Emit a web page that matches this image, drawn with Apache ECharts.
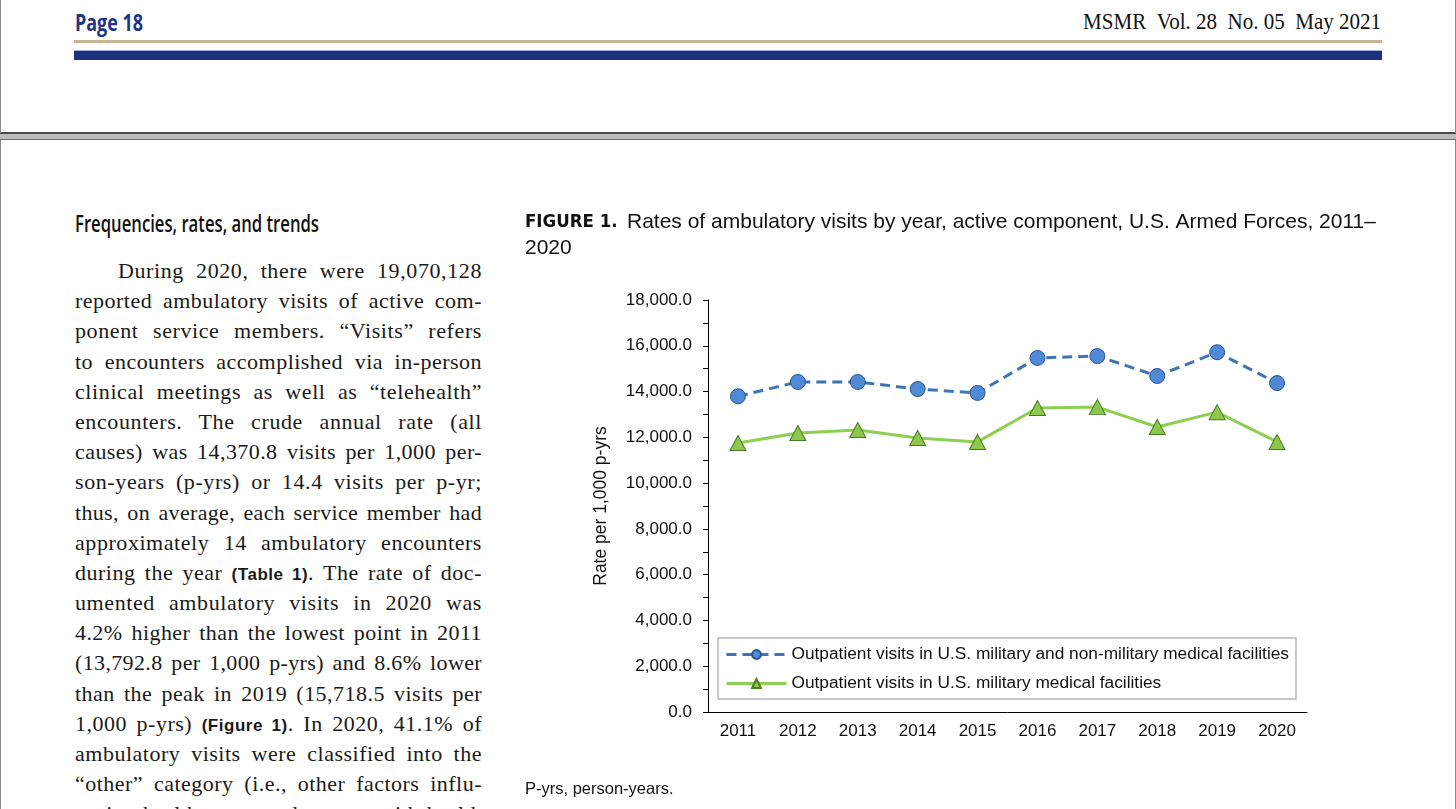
<!DOCTYPE html>
<html>
<head>
<meta charset="utf-8">
<script src="https://cdn.jsdelivr.net/npm/echarts@6/dist/echarts.min.js"></script>
<style>
  html, body { margin:0; padding:0; background:#fff; }
  body { width:1456px; height:809px; overflow:hidden; position:relative; }
  .abs { position:absolute; }
  #frameTop { left:0; top:0; width:1454px; height:132px; border-left:1px solid #8a8a8a; border-right:1px solid #8a8a8a; border-bottom:2px solid #4a4a4a; }
  #band { left:0; top:134px; width:1456px; height:5px; background:#bdbdbd; }
  #bandLine { left:0; top:139px; width:1456px; height:1px; background:#6e6e6e; }
  #frameBot { left:0; top:140px; width:1454px; height:700px; border-left:1px solid #8a8a8a; border-right:1px solid #8a8a8a; }
  .fit { white-space:nowrap; display:inline-block; }
  #pageNo { left:75px; top:6px; font-family:'Open Sans','Noto Sans',sans-serif; font-weight:700; font-size:23px; line-height:32px; color:#1e3486; transform-origin:left center; }
  #issue { right:75px; top:6px; font-family:'Liberation Serif','Times New Roman',serif; font-size:23px; line-height:32px; color:#111; transform-origin:right center; }
  #tanLine { left:74px; top:40px; width:1308px; height:3px; background:#c8b690; }
  #blueThin { left:74px; top:50px; width:1308px; height:1px; background:#9fb0e0; }
  #navyBar { left:74px; top:51px; width:1308px; height:9px; background:#1c2f80; }
  #heading { left:75px; top:207px; font-family:'Open Sans','Noto Sans',sans-serif; font-weight:600; font-size:23px; line-height:32px; color:#111; transform-origin:left center; }
  #article { left:75px; top:256px; width:407px; font-family:'Liberation Serif','Times New Roman',serif; font-size:22px; color:#1a1a1a; }
  #article .ln { height:30.2px; line-height:30px; white-space:nowrap; }
  #article .ln span.t { display:inline-block; white-space:nowrap; transform-origin:left center; }
  #article b { font-family:'Liberation Sans',Arial,sans-serif; font-size:17px; font-weight:700; }
  #chart { left:0; top:0; width:1456px; height:809px; }
</style>
</head>
<body>
<div class="abs" id="frameTop"></div>
<div class="abs" id="band"></div>
<div class="abs" id="bandLine"></div>
<div class="abs" id="frameBot"></div>

<div class="abs fit" id="pageNo">Page 18</div>
<div class="abs fit" id="issue">MSMR&nbsp;&nbsp;Vol. 28&nbsp;&nbsp;No. 05&nbsp;&nbsp;May 2021</div>
<div class="abs" id="tanLine"></div>
<div class="abs" id="blueThin"></div>
<div class="abs" id="navyBar"></div>

<div class="abs fit" id="heading">Frequencies, rates, and trends</div>

<div class="abs" id="article">
  <div class="ln" style="padding-left:43px"><span class="t">During 2020, there were 19,070,128</span></div>
  <div class="ln"><span class="t">reported ambulatory visits of active com-</span></div>
  <div class="ln"><span class="t">ponent service members. “Visits” refers</span></div>
  <div class="ln"><span class="t">to encounters accomplished via in-person</span></div>
  <div class="ln"><span class="t">clinical meetings as well as “telehealth”</span></div>
  <div class="ln"><span class="t">encounters. The crude annual rate (all</span></div>
  <div class="ln"><span class="t">causes) was 14,370.8 visits per 1,000 per-</span></div>
  <div class="ln"><span class="t">son-years (p-yrs) or 14.4 visits per p-yr;</span></div>
  <div class="ln"><span class="t">thus, on average, each service member had</span></div>
  <div class="ln"><span class="t">approximately 14 ambulatory encounters</span></div>
  <div class="ln"><span class="t">during the year <b>(Table 1)</b>. The rate of doc-</span></div>
  <div class="ln"><span class="t">umented ambulatory visits in 2020 was</span></div>
  <div class="ln"><span class="t">4.2% higher than the lowest point in 2011</span></div>
  <div class="ln"><span class="t">(13,792.8 per 1,000 p-yrs) and 8.6% lower</span></div>
  <div class="ln"><span class="t">than the peak in 2019 (15,718.5 visits per</span></div>
  <div class="ln"><span class="t">1,000 p-yrs) <b>(Figure 1)</b>. In 2020, 41.1% of</span></div>
  <div class="ln"><span class="t">ambulatory visits were classified into the</span></div>
  <div class="ln"><span class="t">“other” category (i.e., other factors influ-</span></div>
  <div class="ln"><span class="t">encing health status and contact with health</span></div>
</div>

<div class="abs" id="chart"></div>

<script>
// ---- data ----
var years = ['2011','2012','2013','2014','2015','2016','2017','2018','2019','2020'];
var allFacilities = [13792.8, 14420, 14420, 14110, 13940, 15470, 15550, 14680, 15718.5, 14370.8];
var militaryFacilities = [11750, 12190, 12320, 11970, 11800, 13280, 13320, 12450, 13100, 11800];
var yTicks = [0, 2000, 4000, 6000, 8000, 10000, 12000, 14000, 16000, 18000];
var seriesNames = ['Outpatient visits in U.S. military and non-military medical facilities',
                   'Outpatient visits in U.S. military medical facilities'];
var captionLabel = 'FIGURE 1.';
var captionText = 'Rates of ambulatory visits by year, active component, U.S. Armed Forces, 2011–';
var captionText2 = '2020';
var footnote = 'P-yrs, person-years.';
var yAxisTitle = 'Rate per 1,000 p-yrs';

// ---- fit condensed texts ----
function fitWidth(id, target) {
  var el = document.getElementById(id);
  var w = el.getBoundingClientRect().width;
  el.style.transform = 'scaleX(' + (target / w) + ')';
}
fitWidth('pageNo', 68);
fitWidth('issue', 298);
fitWidth('heading', 244);

// ---- justify article lines (spread over letters and words) ----
var lines = document.querySelectorAll('#article .ln');
lines.forEach(function (ln) {
  var span = ln.querySelector('.t');
  var avail = 407 - (parseFloat(ln.style.paddingLeft) || 0);
  var w = span.getBoundingClientRect().width;
  var txt = span.textContent;
  var spaces = (txt.match(/ /g) || []).length;
  var chars = txt.length - 1;
  if (w < avail && spaces > 0) {
    var extra = avail - w;
    var ls = Math.min(0.6, extra * 0.45 / chars);
    span.style.letterSpacing = ls + 'px';
    var w2 = span.getBoundingClientRect().width;
    span.style.wordSpacing = ((avail - w2) / spaces) + 'px';
  } else if (w > avail) {
    span.style.transform = 'scaleX(' + (avail / w) + ')';
  }
});

// ---- chart ----
var FONT = "'Liberation Sans', Arial, sans-serif";
var chart = echarts.init(document.getElementById('chart'), null, {renderer: 'canvas'});
chart.setOption({
  animation: false,
  backgroundColor: 'transparent',
  title: {
    left: 525, top: 209, padding: 0,
    text: '{fig|' + captionLabel + '}{txt|' + captionText + '}\n{txt|' + captionText2 + '}',
    textStyle: {
      fontWeight: 'normal',
      rich: {
        fig: { fontFamily: "'Liberation Sans Narrow','DejaVu Sans Condensed','Liberation Sans',Arial,sans-serif", fontWeight: 'bold', fontSize: 18.5, color: '#111', width: 102, lineHeight: 26 },
        txt: { fontFamily: FONT, fontWeight: 'normal', fontSize: 21, color: '#111', lineHeight: 26 }
      }
    }
  },
  graphic: [{
    type: 'text', left: 525, top: 781,
    style: { text: footnote, font: '16.5px ' + FONT, fill: '#111' }
  }],
  grid: { left: 708, top: 300, width: 599, height: 412, containLabel: false },
  legend: {
    orient: 'vertical', left: 718, top: 638,
    padding: [8, 7, 7, 7], itemGap: 12, itemWidth: 60, itemHeight: 11,
    borderColor: '#b8b8b8', borderWidth: 1.5, backgroundColor: '#fff',
    lineStyle: { width: 3 },
    textStyle: { fontFamily: FONT, fontSize: 17.3, color: '#111', padding: [0, 0, 0, 0] },
    data: seriesNames
  },
  xAxis: {
    type: 'category', data: years, boundaryGap: true,
    axisLine: { lineStyle: { color: '#000', width: 1 } },
    axisTick: { alignWithLabel: true, length: 5, lineStyle: { color: '#000' } },
    axisLabel: { fontFamily: FONT, fontSize: 17, color: '#111', margin: 11 }
  },
  yAxis: {
    type: 'value', min: 0, max: 18000, interval: 2000,
    name: yAxisTitle, nameLocation: 'middle', nameRotate: 90, nameGap: 98,
    nameTextStyle: { fontFamily: FONT, fontSize: 17.5, color: '#111' },
    axisLine: { show: true, lineStyle: { color: '#000', width: 1 } },
    axisTick: { show: true, length: 5, lineStyle: { color: '#000' } },
    minorTick: { show: true, splitNumber: 2, length: 5, lineStyle: { color: '#000' } },
    splitLine: { show: false },
    axisLabel: {
      fontFamily: FONT, fontSize: 17, color: '#111', margin: 16,
      formatter: function (v) {
        if (yTicks.indexOf(v) < 0) return '';
        return v.toLocaleString('en-US', { minimumFractionDigits: 1, maximumFractionDigits: 1 });
      }
    }
  },
  series: [
    {
      name: seriesNames[0], type: 'line', data: allFacilities,
      symbol: 'circle', symbolSize: 15,
      lineStyle: { color: '#3d74b8', width: 3, type: [10, 6] },
      itemStyle: { color: '#4f8ad6', borderColor: '#2b5590', borderWidth: 1 },
      z: 3
    },
    {
      name: seriesNames[1], type: 'line', data: militaryFacilities,
      symbol: 'triangle', symbolSize: [16, 15],
      lineStyle: { color: '#8dcf50', width: 3 },
      itemStyle: { color: '#8cc84b', borderColor: '#4a7a22', borderWidth: 1 },
      z: 2
    }
  ]
});
</script>
</body>
</html>
